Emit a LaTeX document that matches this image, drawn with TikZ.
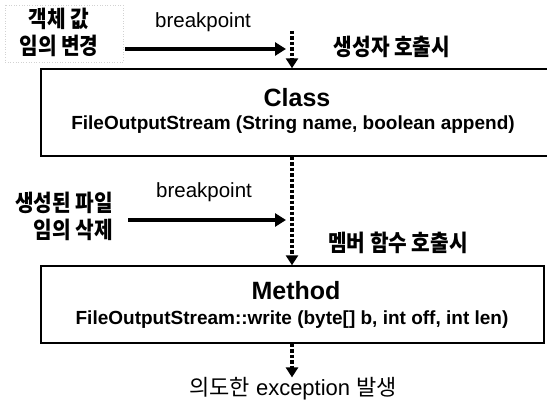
\documentclass[tikz,border=0pt]{standalone}
\usepackage{fontspec}
\setmainfont{Liberation Sans}
\newfontfamily\kr{Noto Sans CJK KR}
\newfontfamily\krc[FakeStretch=0.88]{Noto Sans CJK KR}
\usetikzlibrary{arrows.meta}
\tikzset{
  krlabel/.style={font=\krc\bfseries\fontsize{23}{27}\selectfont, inner sep=0pt},
  bplabel/.style={font=\fontsize{20.5}{24}\selectfont, inner sep=0pt},
  box/.style={draw, line width=1.4pt, inner sep=0pt},
  title/.style={font=\bfseries\fontsize{25}{30}\selectfont, inner sep=0pt},
  sig/.style={font=\bfseries\fontsize{19}{23}\selectfont, inner sep=0pt},
  bparrow/.style={line width=4pt, -{Triangle[length=11pt,width=13pt]}},
  flowarrow/.style={line width=3.5pt, dash pattern=on 3.5pt off 2pt, -{Triangle[length=10pt,width=12pt]}},
}
\begin{document}
\begin{tikzpicture}[x=1pt,y=-1pt]
\useasboundingbox (0,0) rectangle (547,406);
% faint text-box frame around top-left label
\draw[gray!35, dotted, line width=0.6pt] (5,5) rectangle (123,62);
% labels on the left
\node[krlabel, align=center] (l1) at (59,32) {객체 값\\임의 변경};
\node[krlabel, align=right, anchor=east] (l2) at (113,216) {생성된 파일\\임의 삭제};
% breakpoint labels
\node[bplabel] (bp1) at (203,22) {breakpoint};
\node[bplabel] (bp2) at (204,192) {breakpoint};
% right labels
\node[krlabel] (r1) at (392,47) {생성자 호출시};
\node[krlabel] (r2) at (398,243) {멤버 함수 호출시};
% boxes (class box runs past the right page edge)
\node[box, minimum width=510pt, minimum height=87pt] (cls) at (296,112.5) {};
\node[box, minimum width=503pt, minimum height=77pt] (mth) at (292.5,304.5) {};
\node[title] (clst) at (297,98) {Class};
\node[sig] (clss) at (293,125) {FileOutputStream (String name, boolean append)};
\node[title] (mtht) at (296,291) {Method};
\node[sig] (mths) at (292,320) {FileOutputStream::write (byte[] b, int off, int len)};
% exception text
\node[inner sep=0pt, font=\fontsize{22}{26}\selectfont] (exc) at (293,389) {{\kr 의도한} exception {\kr 발생}};
% coordinates
\coordinate (a1s) at (125,49);
\coordinate (a1e) at (286,49);
\coordinate (a2s) at (128,220);
\coordinate (a2e) at (286,220);
\coordinate (v1s) at (292,31);
% arrows
\draw[bparrow] (a1s) -- (a1e);
\draw[bparrow] (a2s) -- (a2e);
\draw[flowarrow] (v1s) -- (v1s |- cls.north);
\draw[flowarrow] (cls.south -| v1s) -- (mth.north -| v1s);
\draw[flowarrow] (mth.south -| v1s) -- (exc.north -| v1s);
\end{tikzpicture}
\end{document}
